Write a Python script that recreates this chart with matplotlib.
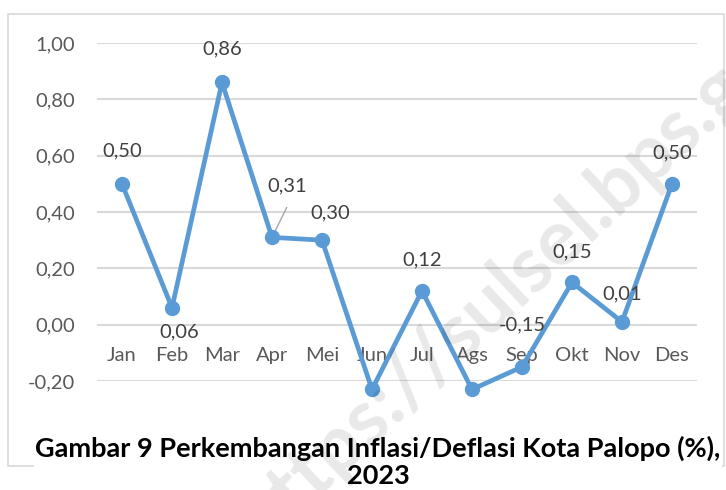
import matplotlib
matplotlib.use("Agg")
import matplotlib.pyplot as plt
from matplotlib.patches import Rectangle

months = ["Jan", "Feb", "Mar", "Apr", "Mei", "Jun", "Jul", "Ags", "Sep", "Okt", "Nov", "Des"]
values = [0.50, 0.06, 0.86, 0.31, 0.30, -0.23, 0.12, -0.23, -0.15, 0.15, 0.01, 0.50]
yticks = [-0.20, 0.00, 0.20, 0.40, 0.60, 0.80, 1.00]
title = "Gambar 9 Perkembangan Inflasi/Deflasi Kota Palopo (%),\n2023"

W, H = 726, 490
fig = plt.figure(figsize=(W / 100, H / 100), dpi=100)
fig.patch.set_facecolor("white")

FONT = "Lato"
BLUE = "#5B9BD5"
GRID = "#D9D9D9"
FS = 14.5

# chart border
fig.patches.append(Rectangle((8 / W, 1 - 466 / H), (724 - 8) / W, (466 - 14) / H,
                             transform=fig.transFigure, fill=False,
                             edgecolor=GRID, linewidth=1.2, zorder=0))

ax = fig.add_axes([97 / W, 1 - 381 / H, 600 / W, 338 / H])
ax.set_facecolor("none")
x = list(range(len(months)))
ax.set_xlim(-0.5, len(months) - 0.5)
ax.set_ylim(-0.20, 1.00)

for s in ax.spines.values():
    s.set_visible(False)
ax.set_yticks(yticks)
ax.set_yticklabels([f"{v:.2f}".replace(".", ",") for v in yticks],
                   fontfamily=FONT, fontsize=FS, color="#595959")
ax.tick_params(axis="y", length=0, pad=16)
ax.set_xticks([])
ax.yaxis.grid(True, color=GRID, linewidth=1.5)
ax.set_axisbelow(True)

for i, m in enumerate(months):
    ax.text(i, -0.11, m, ha="center", va="center", fontfamily=FONT,
            fontsize=FS, color="#595959", zorder=1)

ax.plot(x, values, color=BLUE, linewidth=3.4, marker="o", markersize=10,
        markerfacecolor=BLUE, markeredgecolor=BLUE, zorder=3, clip_on=False)

# data label offsets in points (dx, dy)
offsets = {0: (0, 24), 1: (5, -17), 2: (0, 24), 3: (11, 37), 4: (6, 20),
           5: (0, -22), 6: (0, 22), 7: (0, -22), 8: (0, 30), 9: (0, 22),
           10: (0, 20), 11: (0, 22)}
for i, v in enumerate(values):
    dx, dy = offsets[i]
    ax.annotate(f"{v:.2f}".replace(".", ","), (i, v), xytext=(dx, dy),
                textcoords="offset points", ha="center", va="center",
                fontfamily=FONT, fontsize=FS, color="#404040", zorder=4)

# leader line
ax.annotate("", xy=(3, values[3]), xytext=(3.32, values[3] + 0.115),
            arrowprops=dict(arrowstyle="-", color="#A6A6A6", lw=1), zorder=2)

fig.text(378 / W, 1 - 462 / H, title, ha="center", va="center",
         fontfamily=FONT, fontweight="bold", fontsize=19.5, color="black",
         linespacing=1.12, zorder=5,
         bbox=dict(facecolor="white", edgecolor="none", pad=1))

# watermark (drawn over everything, as in the reference)
fig.text(262 / W, 1 - 546 / H, "https://sulsel.bps.go.id", rotation=43,
         rotation_mode="anchor", ha="left", va="baseline",
         fontfamily=FONT, fontweight="bold", fontsize=56,
         color="#000000", alpha=0.09, zorder=6, clip_on=True)

fig.savefig("out.png", dpi=100, facecolor="white")
